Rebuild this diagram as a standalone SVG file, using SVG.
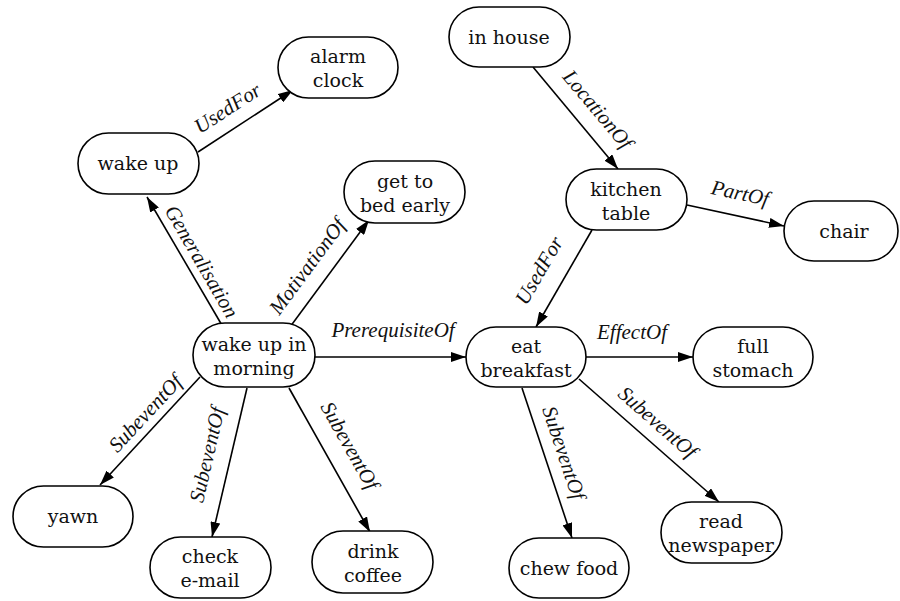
<svg xmlns="http://www.w3.org/2000/svg" width="900" height="601" viewBox="0 0 900 601">
<style>
.node rect{fill:#fff;stroke:#000;stroke-width:1.6}
.node text{font-family:'DejaVu Serif';font-size:19px;text-anchor:middle;fill:#111}
#edges line{stroke:#000;stroke-width:1.6;marker-end:url(#arr)}
.lbl{font-family:'Times New Roman',Times,serif;font-style:italic;font-size:21px;text-anchor:middle;fill:#111}
</style>
<defs>
<marker id="arr" markerUnits="userSpaceOnUse" markerWidth="15" markerHeight="10" refX="15" refY="5" orient="auto">
<path d="M0,0 L15,5 L0,10 z" fill="#000"/>
</marker>
</defs>
<rect width="900" height="601" fill="#fff"/>
<g id="edges">
<line x1="198" y1="152" x2="293" y2="90"/>
<line x1="223" y1="327" x2="147" y2="197"/>
<line x1="290" y1="327" x2="369" y2="220"/>
<line x1="315" y1="357" x2="466" y2="357"/>
<line x1="533" y1="67" x2="618" y2="169"/>
<line x1="687" y1="205" x2="784" y2="226"/>
<line x1="592" y1="230" x2="536" y2="327"/>
<line x1="586" y1="357" x2="693" y2="357"/>
<line x1="200" y1="377" x2="100" y2="485"/>
<line x1="247" y1="388" x2="212" y2="537"/>
<line x1="289" y1="388" x2="370" y2="532"/>
<line x1="522" y1="388" x2="572" y2="538"/>
<line x1="579" y1="379" x2="719" y2="502"/>
</g>
<g id="labels">
<text class="lbl" transform="translate(228,109) rotate(-33)" y="6">UsedFor</text>
<text class="lbl" transform="translate(201,262) rotate(60)" y="6">Generalisation</text>
<text class="lbl" transform="translate(308,267) rotate(-53.6)" y="6">MotivationOf</text>
<text class="lbl" transform="translate(393,331)" y="6">PrerequisiteOf</text>
<text class="lbl" transform="translate(597,110) rotate(50)" y="6">LocationOf</text>
<text class="lbl" transform="translate(740,194) rotate(12)" y="6">PartOf</text>
<text class="lbl" transform="translate(540,271) rotate(-60)" y="6">UsedFor</text>
<text class="lbl" transform="translate(632,333)" y="6">EffectOf</text>
<text class="lbl" transform="translate(146,414) rotate(-47)" y="6">SubeventOf</text>
<text class="lbl" transform="translate(208,455) rotate(-77)" y="6">SubeventOf</text>
<text class="lbl" transform="translate(349,446) rotate(60.6)" y="6">SubeventOf</text>
<text class="lbl" transform="translate(563,453) rotate(71.6)" y="6">SubeventOf</text>
<text class="lbl" transform="translate(657,423) rotate(41.3)" y="6">SubeventOf</text>
</g>
<g id="nodes">
<g id="n-alarm" class="node"><rect x="278" y="37" width="120" height="61" rx="30.5"/><text x="338" y="63">alarm</text><text x="338" y="87">clock</text></g>
<g id="n-wakeup" class="node"><rect x="78" y="133" width="121" height="61" rx="30.5"/><text x="138" y="170">wake up</text></g>
<g id="n-bed" class="node"><rect x="344" y="161" width="121" height="62" rx="31"/><text x="405" y="188">get to</text><text x="405" y="212">bed early</text></g>
<g id="n-house" class="node"><rect x="449" y="7" width="121" height="60" rx="30"/><text x="509" y="44">in house</text></g>
<g id="n-table" class="node"><rect x="566" y="169" width="121" height="61" rx="30.5"/><text x="626" y="196">kitchen</text><text x="626" y="220">table</text></g>
<g id="n-chair" class="node"><rect x="784" y="201" width="114" height="60" rx="30"/><text x="844" y="238">chair</text></g>
<g id="n-morning" class="node"><rect x="193" y="323" width="122" height="64" rx="32"/><text x="254" y="351">wake up in</text><text x="254" y="375">morning</text></g>
<g id="n-breakfast" class="node"><rect x="466" y="327" width="120" height="60" rx="30"/><text x="526" y="353">eat</text><text x="526" y="377">breakfast</text></g>
<g id="n-full" class="node"><rect x="693" y="327" width="120" height="60" rx="30"/><text x="753" y="353">full</text><text x="753" y="377">stomach</text></g>
<g id="n-yawn" class="node"><rect x="13" y="486" width="120" height="61" rx="30.5"/><text x="73" y="523">yawn</text></g>
<g id="n-email" class="node"><rect x="150" y="537" width="121" height="61" rx="30.5"/><text x="210" y="563">check</text><text x="210" y="587">e-mail</text></g>
<g id="n-coffee" class="node"><rect x="312" y="531" width="121" height="62" rx="31"/><text x="373" y="558">drink</text><text x="373" y="582">coffee</text></g>
<g id="n-chew" class="node"><rect x="509" y="538" width="120" height="60" rx="30"/><text x="569" y="575">chew food</text></g>
<g id="n-news" class="node"><rect x="661" y="502" width="121" height="61" rx="30.5"/><text x="721" y="528">read</text><text x="721" y="552">newspaper</text></g>
</g>
</svg>
